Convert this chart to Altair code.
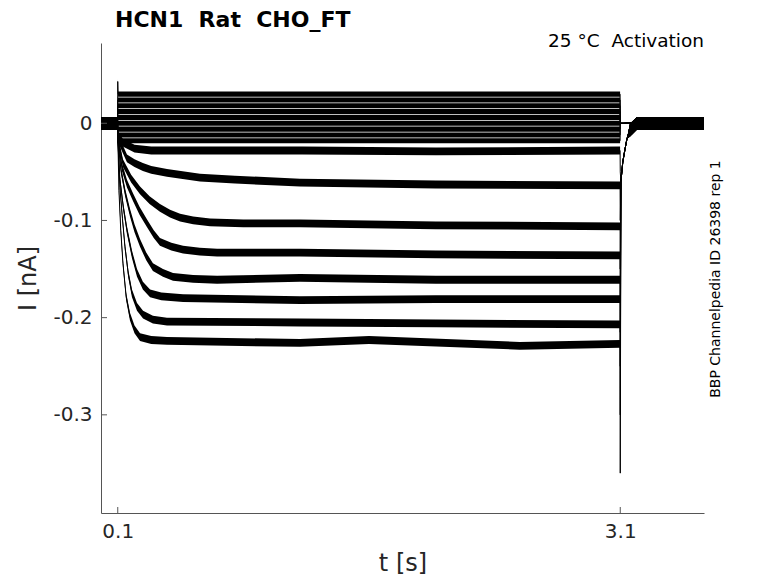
import altair as alt
import pandas as pd

# ---------------- data ----------------
pre_t = [0.0, 0.099]
pre_i = [0.0, 0.0]

# near-zero traces (flat steps), level in nA
upper_levels = [0.030, 0.024, 0.018, 0.012, 0.006, 0.000, -0.006, -0.012, -0.018]
onset_spike = 0.043          # top trace at the start of the step

# traces with visible activation (t [s], I [nA])
h_t = [0.1, 0.13, 0.2, 0.3, 0.6, 1.2, 2.0, 3.099]
h_i = [-0.012, -0.02, -0.026, -0.028, -0.028, -0.028, -0.029, -0.028]
g_t = [0.1, 0.155, 0.2, 0.25, 0.3, 0.394, 0.591, 0.8, 1.188, 2.0, 3.099]
g_i = [-0.015, -0.036, -0.041, -0.045, -0.048, -0.051, -0.056, -0.058, -0.061, -0.063, -0.064]
f_t = [0.1, 0.131, 0.18, 0.233, 0.29, 0.352, 0.412, 0.472, 0.55, 0.651, 0.85, 1.188, 2.0, 3.099]
f_i = [-0.015, -0.041, -0.057, -0.069, -0.079, -0.087, -0.093, -0.097, -0.100, -0.102, -0.103, -0.103, -0.105, -0.106]
e_t = [0.1, 0.125, 0.155, 0.191, 0.23, 0.275, 0.315, 0.352, 0.42, 0.49, 0.59, 0.693, 1.188, 2.0, 3.099]
e_i = [-0.015, -0.045, -0.062, -0.076, -0.090, -0.103, -0.114, -0.122, -0.127, -0.130, -0.132, -0.133, -0.133, -0.135, -0.136]
d_t = [0.1, 0.119, 0.145, 0.173, 0.2, 0.233, 0.27, 0.31, 0.37, 0.43, 0.55, 0.693, 1.188, 2.0, 3.099]
d_i = [-0.015, -0.048, -0.072, -0.092, -0.108, -0.123, -0.137, -0.148, -0.154, -0.158, -0.160, -0.161, -0.159, -0.161, -0.161]
c_t = [0.1, 0.113, 0.133, 0.155, 0.185, 0.215, 0.25, 0.293, 0.36, 0.49, 1.188, 2.0, 3.099]
c_i = [-0.015, -0.058, -0.086, -0.11, -0.135, -0.154, -0.167, -0.175, -0.178, -0.18, -0.182, -0.181, -0.181]
b_t = [0.1, 0.113, 0.128, 0.143, 0.163, 0.185, 0.215, 0.251, 0.31, 0.394, 1.188, 2.0, 3.099]
b_i = [-0.015, -0.066, -0.098, -0.127, -0.155, -0.175, -0.189, -0.197, -0.202, -0.204, -0.205, -0.206, -0.207]
a_t = [0.1, 0.107, 0.118, 0.131, 0.15, 0.173, 0.2, 0.233, 0.3, 0.394, 1.188, 1.6, 2.5, 3.099]
a_i = [-0.01, -0.069, -0.11, -0.144, -0.178, -0.199, -0.212, -0.22, -0.223, -0.224, -0.226, -0.223, -0.229, -0.227]

lower_t = [a_t, b_t, c_t, d_t, e_t, f_t, g_t, h_t]
lower_i = [a_i, b_i, c_i, d_i, e_i, f_i, g_i, h_i]
tail_spike = [-0.36, -0.30, -0.25, -0.215, -0.185, -0.15, -0.10, -0.05]
tail_t = [3.104, 3.115, 3.128, 3.14, 3.158, 3.2, 3.6]
tail_i = [-0.06, -0.04, -0.027, -0.016, -0.007, 0.0, 0.0]

noise_step = 0.0040
noise_upper = 0.0026
noise_hold = 0.0065

y_ticks = [0, -0.1, -0.2, -0.3]
x_ticks = [0.1, 3.1]

# ---------------- table ----------------
rows = []
def add(tr, ts, vs, step_noise):
    for t, v in zip(ts, vs):
        if 0.1 <= t <= 3.099:
            n = step_noise
        elif t <= 0.099 or t >= 3.158:
            n = noise_hold
        else:
            n = 0.0
        rows.append({"trace": tr, "t": t, "I": v, "lo": v - n, "hi": v + n})

for k, lev in enumerate(upper_levels):
    ts = pre_t + [0.1, 3.099, 3.1, 3.6]
    vs = pre_i + [lev, lev, 0.0, 0.0]
    if k == 0:
        ts = pre_t + [0.1, 0.102, 3.099, 3.1, 3.6]
        vs = pre_i + [onset_spike, lev, lev, 0.0, 0.0]
    add("u%d" % k, ts, vs, noise_upper)

for k in range(len(lower_t)):
    ts = pre_t + lower_t[k] + [3.1] + tail_t
    vs = pre_i + lower_i[k] + [tail_spike[k]] + tail_i
    add("l%d" % k, ts, vs, noise_step)

df = pd.DataFrame(rows)

W, H = 603, 470
FONT = "DejaVu Sans"
xs = alt.Scale(domain=[0, 3.6], nice=False, zero=False)
ys = alt.Scale(domain=[-0.401, 0.0826], nice=False, zero=False)

x_axis = alt.Axis(values=x_ticks, title="t [s]", format=".1f",
                  labelFontSize=20, titleFontSize=24, ticks=False, tickSize=0,
                  labelPadding=8, titlePadding=10, domainColor="#555555",
                  labelColor="#262626", titleColor="#262626",
                  labelFont=FONT, titleFont=FONT, titleFontWeight="normal", grid=False)
y_axis = alt.Axis(values=y_ticks, title="I [nA]",
                  labelExpr="datum.value == 0 ? '0' : '-' + format(abs(datum.value), '.1f')",
                  labelFontSize=20, titleFontSize=24, ticks=False, tickSize=0,
                  labelPadding=9, titlePadding=12, domainColor="#555555",
                  labelColor="#262626", titleColor="#262626",
                  labelFont=FONT, titleFont=FONT, titleFontWeight="normal", grid=False)

band = alt.Chart(df).mark_area(color="black", opacity=1).encode(
    x=alt.X("t:Q", scale=xs, axis=x_axis, title="t [s]"),
    y=alt.Y("lo:Q", scale=ys, axis=y_axis, title="I [nA]"),
    y2="hi:Q",
    detail="trace:N",
)

line = alt.Chart(df).mark_line(color="black", strokeWidth=1).encode(
    x=alt.X("t:Q", scale=xs, axis=x_axis, title="t [s]"),
    y=alt.Y("I:Q", scale=ys, axis=y_axis, title="I [nA]"),
    detail="trace:N",
    order="t:Q",
)

ytick = alt.Chart(pd.DataFrame({"v": y_ticks})).mark_rule(color="#555555", strokeWidth=1).encode(
    y=alt.Y("v:Q", scale=ys, axis=y_axis, title="I [nA]"),
    x=alt.value(0), x2=alt.value(6),
)
xtick = alt.Chart(pd.DataFrame({"v": x_ticks})).mark_rule(color="#555555", strokeWidth=1).encode(
    x=alt.X("v:Q", scale=xs, axis=x_axis, title="t [s]"),
    y=alt.value(H), y2=alt.value(H - 6),
)

title = alt.Chart(pd.DataFrame({"s": ["HCN1\u00a0\u00a0Rat\u00a0\u00a0CHO_FT"]})).mark_text(
    align="left", baseline="alphabetic", fontSize=22, font=FONT, fontWeight="bold", color="black"
).encode(text="s:N", x=alt.value(14), y=alt.value(-16))

cond = alt.Chart(pd.DataFrame({"s": ["25 \u00b0C\u00a0\u00a0Activation"]})).mark_text(
    align="right", baseline="alphabetic", fontSize=18.5, font=FONT, color="black"
).encode(text="s:N", x=alt.value(W), y=alt.value(4))

side = alt.Chart(pd.DataFrame({"s": ["BBP Channelpedia ID 26398 rep 1"]})).mark_text(
    align="center", baseline="middle", angle=270, fontSize=14, font=FONT, color="black"
).encode(text="s:N", x=alt.value(615), y=alt.value(H / 2 + 1))

chart = alt.layer(band, line, ytick, xtick, title, cond, side).properties(
    width=W, height=H,
    autosize=alt.AutoSizeParams(type="none"),
    padding={"left": 93, "top": 35, "right": 60, "bottom": 68},
).configure_view(stroke=None).configure_axis(grid=False)

chart.save("out.html", embed_options={"renderer": "svg", "actions": False})
